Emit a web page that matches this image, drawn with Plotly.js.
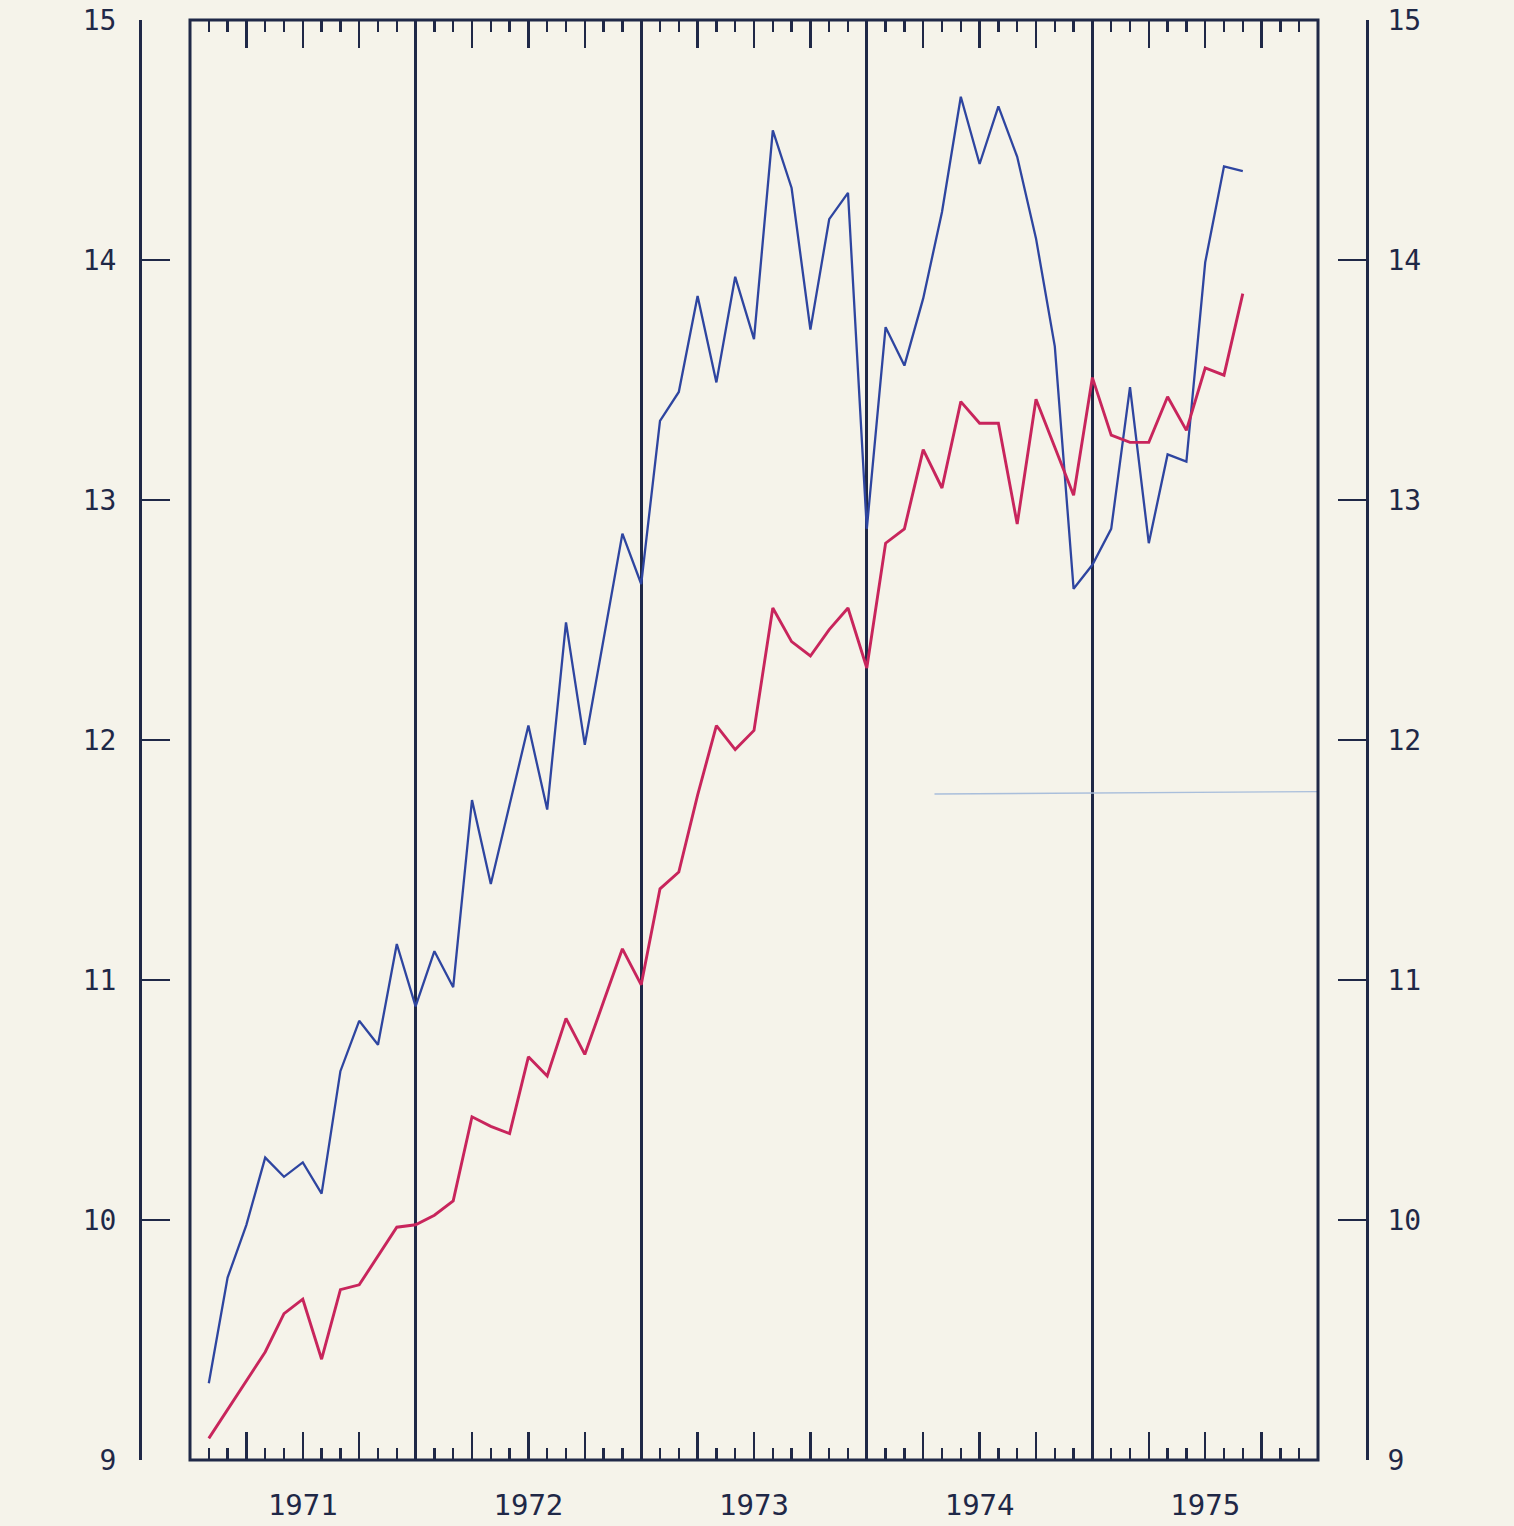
<!DOCTYPE html>
<html>
<head>
<meta charset="utf-8">
<script src="https://cdn.plot.ly/plotly-3.0.1.min.js"></script>
<style>
  html, body { margin: 0; padding: 0; background: #f5f3ea; }
  #chart { width: 1514px; height: 1526px; }
</style>
</head>
<body>
<div id="chart"></div>
<script>
// ---- data ----
const years = [1971, 1972, 1973, 1974, 1975];
const monthsPlotted = [12, 12, 12, 12, 8];   // monthly observations per year
const yearLabels = ['1971', '1972', '1973', '1974', '1975'];
const yTicks = [9, 10, 11, 12, 13, 14, 15];

// blue series (monthly)
const blueSeries = [
  9.32, 9.76, 9.98, 10.26, 10.18, 10.24, 10.11, 10.62, 10.83, 10.73, 11.15, 10.89,
  11.12, 10.97, 11.75, 11.40, 11.73, 12.06, 11.71, 12.49, 11.98, 12.42, 12.86, 12.65,
  13.33, 13.45, 13.85, 13.49, 13.93, 13.67, 14.54, 14.30, 13.71, 14.17, 14.28, 12.88,
  13.72, 13.56, 13.84, 14.20, 14.68, 14.40, 14.64, 14.43, 14.09, 13.64, 12.63, 12.73,
  12.88, 13.47, 12.82, 13.19, 13.16, 13.99, 14.39, 14.37
];
// red series (monthly)
const redSeries = [
  9.09, 9.21, 9.33, 9.45, 9.61, 9.67, 9.42, 9.71, 9.73, 9.85, 9.97, 9.98,
  10.02, 10.08, 10.43, 10.39, 10.36, 10.68, 10.60, 10.84, 10.69, 10.91, 11.13, 10.98,
  11.38, 11.45, 11.77, 12.06, 11.96, 12.04, 12.55, 12.41, 12.35, 12.46, 12.55, 12.30,
  12.82, 12.88, 13.21, 13.05, 13.41, 13.32, 13.32, 12.90, 13.42, 13.22, 13.02, 13.51,
  13.27, 13.24, 13.24, 13.43, 13.29, 13.55, 13.52, 13.86
];
// faint stray pen line on the sheet
const strayX = [1974.30, 1976.0];
const strayY = [11.775, 11.785];

// ---- derived positions (end of each month, in decimal years) ----
const xMonths = [];
years.forEach((yr, k) => {
  for (let m = 1; m <= monthsPlotted[k]; m++) xMonths.push(yr + m / 12);
});
const xStart = years[0];
const xEnd = years[years.length - 1] + 1;
const quarterTicks = [];
for (let v = xStart; v <= xEnd + 1e-9; v += 0.25) quarterTicks.push(v);
const midYears = years.map(y => y + 0.5);

const ink = '#1f2847';
const fontFam = 'DejaVu Sans Mono, monospace';

const traces = [
  { x: strayX, y: strayY, mode: 'lines', line: { color: '#a9bedb', width: 1.4 }, hoverinfo: 'skip', xaxis: 'x', yaxis: 'y' },
  { x: xMonths, y: blueSeries, mode: 'lines', line: { color: '#2e45a0', width: 2.3 }, xaxis: 'x2', yaxis: 'y', name: 'blue' },
  { x: xMonths, y: redSeries, mode: 'lines', line: { color: '#c8255c', width: 2.9 }, xaxis: 'x3', yaxis: 'y2', name: 'red' }
];

const W = 1514, H = 1526;
const padL = 140, padR = W - 1367;
const paperW = W - padL - padR;
const dom = [(190 - padL) / paperW, (1318 - padL) / paperW];

const tickAxis = (extra) => Object.assign({
  range: [xStart, xEnd], domain: dom, showgrid: false, zeroline: false,
  showline: false, showticklabels: false, fixedrange: true
}, extra);

const monthMinor = { tickmode: 'linear', tick0: xStart, dtick: 1 / 12, ticks: 'inside', ticklen: 12, tickwidth: 2.4, tickcolor: ink, showgrid: false };

const layout = {
  width: W, height: H,
  margin: { l: padL, r: padR, t: 20, b: H - 1460 },
  paper_bgcolor: '#f5f3ea', plot_bgcolor: '#f5f3ea',
  showlegend: false,
  xaxis: tickAxis({
    anchor: 'y',
    tickmode: 'array', tickvals: quarterTicks, ticks: 'inside', ticklen: 28, tickwidth: 2.4, tickcolor: ink,
    minor: monthMinor
  }),
  xaxis2: tickAxis({
    overlaying: 'x', side: 'top', anchor: 'y',
    tickmode: 'array', tickvals: quarterTicks, ticks: 'inside', ticklen: 28, tickwidth: 2.4, tickcolor: ink,
    minor: monthMinor
  }),
  xaxis3: tickAxis({
    overlaying: 'x', side: 'bottom', anchor: 'y2',
    tickmode: 'array', tickvals: midYears, ticktext: yearLabels, showticklabels: true, ticks: '',
    ticklabelstandoff: 25,
    tickfont: { family: fontFam, size: 29, color: ink },
    minor: { tickmode: 'linear', tick0: xStart, dtick: 1, ticks: '', showgrid: true, gridcolor: ink, gridwidth: 2.6 }
  }),
  yaxis: {
    range: [yTicks[0], yTicks[yTicks.length - 1]], anchor: 'free', position: 0, side: 'left',
    tickmode: 'array', tickvals: yTicks, ticks: 'inside', ticklen: 28, tickwidth: 2.6, tickcolor: ink,
    showline: true, linecolor: ink, linewidth: 2.8, showgrid: false, zeroline: false,
    ticklabelstandoff: 17,
    tickfont: { family: fontFam, size: 28, color: ink }, fixedrange: true
  },
  yaxis2: {
    range: [yTicks[0], yTicks[yTicks.length - 1]], overlaying: 'y', anchor: 'free', position: 1, side: 'right',
    tickmode: 'array', tickvals: yTicks, ticks: 'inside', ticklen: 28, tickwidth: 2.6, tickcolor: ink,
    showline: true, linecolor: ink, linewidth: 2.8, showgrid: false, zeroline: false,
    ticklabelstandoff: 13,
    tickfont: { family: fontFam, size: 28, color: ink }, fixedrange: true
  },
  shapes: [
    { type: 'rect', xref: 'x domain', yref: 'y domain', x0: 0, x1: 1, y0: 0, y1: 1,
      line: { color: ink, width: 3 }, fillcolor: 'rgba(0,0,0,0)', layer: 'above' }
  ]
};

Plotly.newPlot('chart', traces, layout, { staticPlot: true, displayModeBar: false });
</script>
</body>
</html>
